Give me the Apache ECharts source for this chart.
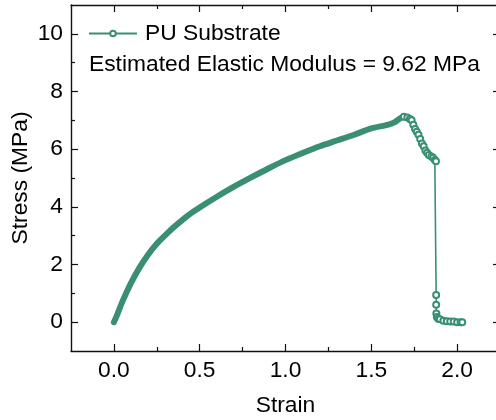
<!DOCTYPE html>
<html>
<head>
<meta charset="utf-8">
<script src="https://cdn.jsdelivr.net/npm/echarts@6/dist/echarts.min.js"></script>
<style>html,body{margin:0;padding:0;background:#fff;}#c{width:496px;height:420px;}</style>
</head>
<body>
<div id="c"></div>
<script>
// Rising part of the stress-strain curve (strain, stress MPa)
var riseStrain = [0, 0.02, 0.05, 0.1, 0.15, 0.2, 0.25, 0.3, 0.35, 0.4, 0.45, 0.5, 0.6, 0.7, 0.8, 0.9, 1.0, 1.1, 1.2, 1.3, 1.4, 1.5, 1.6, 1.64, 1.67, 1.69];
var riseStress = [0, 0.27, 0.72, 1.36, 1.9, 2.35, 2.72, 3.02, 3.3, 3.55, 3.78, 3.98, 4.35, 4.7, 5.02, 5.33, 5.62, 5.87, 6.1, 6.3, 6.5, 6.72, 6.85, 6.95, 7.08, 7.12];
// Failure part after the peak
var failStrain = [1.69, 1.71, 1.725, 1.735, 1.745, 1.755, 1.765, 1.775, 1.785, 1.795, 1.805, 1.815, 1.825, 1.835, 1.85, 1.86, 1.87, 1.877, 1.878, 1.878, 1.879, 1.882, 1.89, 1.9, 1.92, 1.94, 1.96, 1.98, 2.0, 2.02, 2.03];
var failStress = [7.12, 7.1, 7.05, 7.0, 6.85, 6.7, 6.6, 6.5, 6.35, 6.2, 6.1, 5.95, 5.88, 5.8, 5.75, 5.7, 5.62, 5.58, 0.94, 0.6, 0.3, 0.18, 0.12, 0.1, 0.05, 0.03, 0.02, 0.02, 0.0, 0.0, 0.0];
var xMajor = [0, 0.5, 1, 1.5, 2];
var xMinor = [0.25, 0.75, 1.25, 1.75];
var yMajor = [0, 2, 4, 6, 8, 10];
var yMinor = [1, 3, 5, 7, 9];
var seriesName = 'PU Substrate';
var noteText = 'Estimated Elastic Modulus = 9.62 MPa';

function zip(a, b) { return a.map(function (v, i) { return [v, b[i]]; }); }

var FONT = '"Liberation Sans", Arial, sans-serif';
var FS = 22.8;
var GREEN = '#3a8f73';
var AX = '#111';

function xAx(pos, ticks, len, labels, line) {
  return {
    type: 'value', position: pos, min: -0.25, max: 2.25,
    axisLine: { show: line, onZero: false, lineStyle: { color: AX, width: 1.4 } },
    axisTick: { show: true, inside: true, length: len, customValues: ticks, lineStyle: { color: AX, width: 1.2 } },
    axisLabel: labels ? { show: true, customValues: xMajor, margin: 8, color: '#000', fontSize: FS, fontFamily: FONT,
      formatter: function (v) { return v.toFixed(1); } } : { show: false },
    splitLine: { show: false },
    name: labels ? 'Strain' : '', nameLocation: 'middle', nameGap: 43, nameMoveOverlap: false,
    nameTextStyle: { color: '#000', fontSize: FS, fontFamily: FONT }
  };
}
function yAx(pos, ticks, len, labels, line) {
  return {
    type: 'value', position: pos, min: -1, max: 11,
    axisLine: { show: line, onZero: false, lineStyle: { color: AX, width: 1.4 } },
    axisTick: { show: true, inside: true, length: len, customValues: ticks, lineStyle: { color: AX, width: 1.2 } },
    axisLabel: labels ? { show: true, customValues: yMajor, margin: 8, color: '#000', fontSize: FS, fontFamily: FONT } : { show: false },
    splitLine: { show: false },
    name: labels ? 'Stress (MPa)' : '', nameLocation: 'middle', nameGap: 39, nameMoveOverlap: false,
    nameTextStyle: { color: '#000', fontSize: FS, fontFamily: FONT }
  };
}

var chart = echarts.init(document.getElementById('c'), null, { renderer: 'canvas' });
chart.setOption({
  animation: false,
  backgroundColor: '#fff',
  grid: { left: 71, top: 5, width: 429, height: 346, containLabel: false, outerBoundsMode: 'none' },
  xAxis: [
    xAx('bottom', xMajor, 7, true, true),
    xAx('bottom', xMinor, 4, false, false),
    xAx('top', xMajor, 7, false, true),
    xAx('top', xMinor, 4, false, false)
  ],
  yAxis: [
    yAx('left', yMajor, 7, true, true),
    yAx('left', yMinor, 4, false, false),
    yAx('right', yMajor, 7, false, true),
    yAx('right', yMinor, 4, false, false)
  ],
  legend: {
    data: [seriesName], left: 88, top: 22, padding: 0, itemWidth: 48, itemHeight: 7, itemGap: 8,
    textStyle: { color: '#000', fontSize: FS, fontFamily: FONT, padding: [0, 0, 0, 3] }
  },
  title: {
    text: noteText, left: 89, top: 53, padding: 0,
    textStyle: { color: '#000', fontSize: FS, fontWeight: 'normal', fontFamily: FONT }
  },
  series: [
    {
      name: seriesName, type: 'line', data: zip(failStrain, failStress),
      xAxisIndex: 0, yAxisIndex: 0,
      symbol: 'emptyCircle', symbolSize: 6, showSymbol: true,
      itemStyle: { color: GREEN, borderWidth: 1.5 },
      lineStyle: { color: GREEN, width: 1.6 },
      z: 3
    },
    {
      name: seriesName, type: 'line', data: zip(riseStrain, riseStress),
      xAxisIndex: 0, yAxisIndex: 0, smooth: 0.25,
      symbol: 'none', showSymbol: false,
      itemStyle: { color: GREEN },
      lineStyle: { color: GREEN, width: 6, cap: 'round', join: 'round' },
      z: 2
    }
  ]
});
</script>
</body>
</html>
